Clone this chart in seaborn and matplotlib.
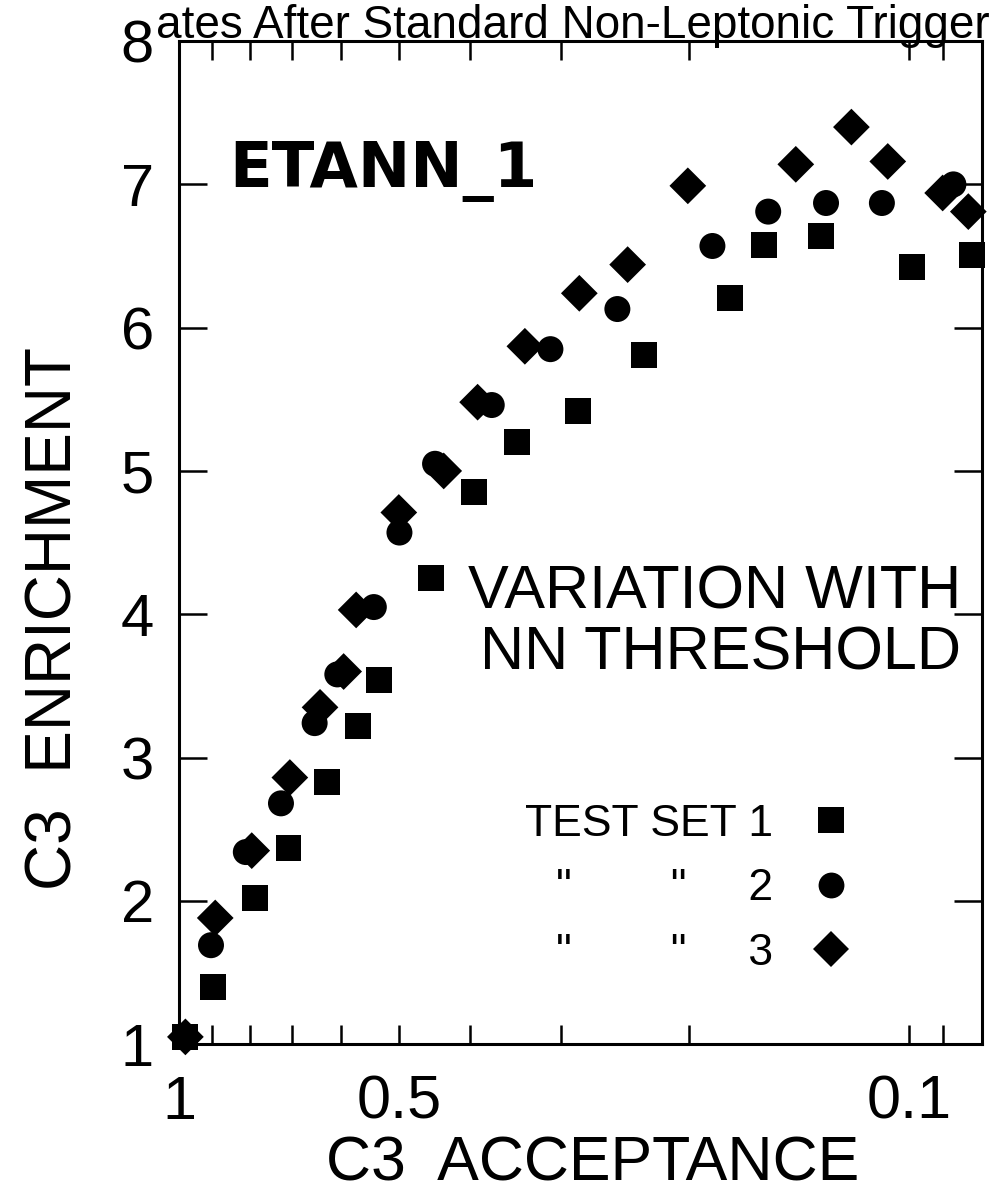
import numpy as np
import pandas as pd
import matplotlib
matplotlib.use("Agg")
import matplotlib.pyplot as plt
from matplotlib.lines import Line2D
import seaborn as sns

# ---------------- data ----------------
set1_x = [0.98, 0.898, 0.787, 0.708, 0.627, 0.568, 0.532, 0.452, 0.395, 0.344,
          0.284, 0.231, 0.176, 0.158, 0.132, 0.099, 0.082]
set1_y = [1.05, 1.40, 2.02, 2.37, 2.83, 3.22, 3.54, 4.25, 4.85, 5.20,
          5.42, 5.81, 6.21, 6.58, 6.64, 6.42, 6.51]

set2_x = [0.98, 0.904, 0.810, 0.725, 0.652, 0.607, 0.541, 0.499, 0.446, 0.373,
          0.310, 0.251, 0.186, 0.156, 0.130, 0.109, 0.087]
set2_y = [1.05, 1.69, 2.34, 2.68, 3.24, 3.58, 4.05, 4.57, 5.05, 5.46,
          5.85, 6.13, 6.57, 6.81, 6.87, 6.87, 7.00]

set3_x = [0.98, 0.892, 0.795, 0.705, 0.641, 0.595, 0.572, 0.500, 0.434, 0.390,
          0.336, 0.283, 0.243, 0.201, 0.143, 0.120, 0.107, 0.090, 0.083]
set3_y = [1.05, 1.88, 2.35, 2.86, 3.35, 3.60, 4.03, 4.71, 5.00, 5.48,
          5.87, 6.24, 6.44, 6.99, 7.14, 7.40, 7.16, 6.94, 6.81]

set_names = ["1", "2", "3"]
set_markers = {"1": "s", "2": "o", "3": "D"}

x_ticks = [1.0, 0.9, 0.8, 0.7, 0.6, 0.5, 0.4, 0.3, 0.2, 0.1, 0.09]
x_tick_labels = ["1", "", "", "", "", "0.5", "", "", "", "0.1", ""]
y_ticks = [1, 2, 3, 4, 5, 6, 7, 8]

legend_labels = ["TEST SET 1", '"        "     2', '"        "     3']

df = pd.concat([
    pd.DataFrame({"acc": set1_x, "enr": set1_y, "set": "1"}),
    pd.DataFrame({"acc": set2_x, "enr": set2_y, "set": "2"}),
    pd.DataFrame({"acc": set3_x, "enr": set3_y, "set": "3"}),
], ignore_index=True)

# ---------------- style ----------------
sns.set_theme(style="ticks")
plt.rcParams["font.family"] = ["Liberation Sans", "DejaVu Sans"]
plt.rcParams["axes.linewidth"] = 2.2
plt.rcParams["text.color"] = "black"
plt.rcParams["axes.labelcolor"] = "black"
plt.rcParams["xtick.color"] = "black"
plt.rcParams["ytick.color"] = "black"
plt.rcParams["legend.labelcolor"] = "black"

fig = plt.figure(figsize=(10.05, 12.02), dpi=100)
fig.patch.set_facecolor("white")
ax = fig.add_axes([0.1781, 0.1314, 0.799, 0.8344])
ax.set_facecolor("white")

sns.scatterplot(data=df, x="acc", y="enr", style="set", markers=set_markers,
                style_order=set_names, color="black", s=350, linewidth=0,
                legend=False, ax=ax, clip_on=False, zorder=3)

ax.set_xscale("log")
ax.set_xlim(1.0, 0.0795)
ax.set_ylim(1, 8)
ax.set_xticks(x_ticks, labels=x_tick_labels)
ax.minorticks_off()
ax.set_yticks(y_ticks, labels=[str(v) for v in y_ticks])

for sp in ax.spines.values():
    sp.set_visible(True)
    sp.set_color("black")
    sp.set_linewidth(2.2)

ax.tick_params(axis="x", which="both", direction="in", length=14, width=1.8,
               top=True, bottom=True, labelsize=44, pad=22, colors="black")
ax.tick_params(axis="y", which="both", direction="in", length=20, width=1.8,
               left=True, right=True, labelsize=43, pad=18, colors="black")

ax.set_xlabel("C3  ACCEPTANCE", fontsize=45, color="black")
ax.set_ylabel("C3  ENRICHMENT", fontsize=46, color="black")
ax.xaxis.set_label_coords(0.515, -0.090)
ax.yaxis.set_label_coords(-0.118, 0.424)

# annotations
ax.text(0.062, 0.855, "ETANN_1", transform=ax.transAxes, fontsize=45,
        fontweight="bold", family=["DejaVu Sans"], ha="left", va="baseline",
        color="black")
ax.text(0.667, 0.434, "VARIATION WITH", transform=ax.transAxes, fontsize=44,
        ha="center", va="baseline", color="black")
ax.text(0.674, 0.373, "NN THRESHOLD", transform=ax.transAxes, fontsize=44,
        ha="center", va="baseline", color="black")

# title fragment (cut off at the page edge in the scan)
fig.text(0.155, 0.968, "ates After Standard Non-Leptonic Trigger", fontsize=33,
         ha="left", va="baseline", color="black")

# legend: labels on the left, markers on the right
handles = [Line2D([], [], marker=set_markers[k], ls="", color="black",
                  markersize=18.6, markeredgewidth=0) for k in set_names]
leg = ax.legend(handles, legend_labels, markerfirst=False, frameon=False,
                loc="center right", bbox_to_anchor=(0.834, 0.155),
                fontsize=32, handlelength=0.8, handletextpad=0.9,
                labelspacing=0.53, borderpad=0, borderaxespad=0)
for t in leg.get_texts():
    t.set_color("black")

fig.savefig("out.png", dpi=100, facecolor="white")
